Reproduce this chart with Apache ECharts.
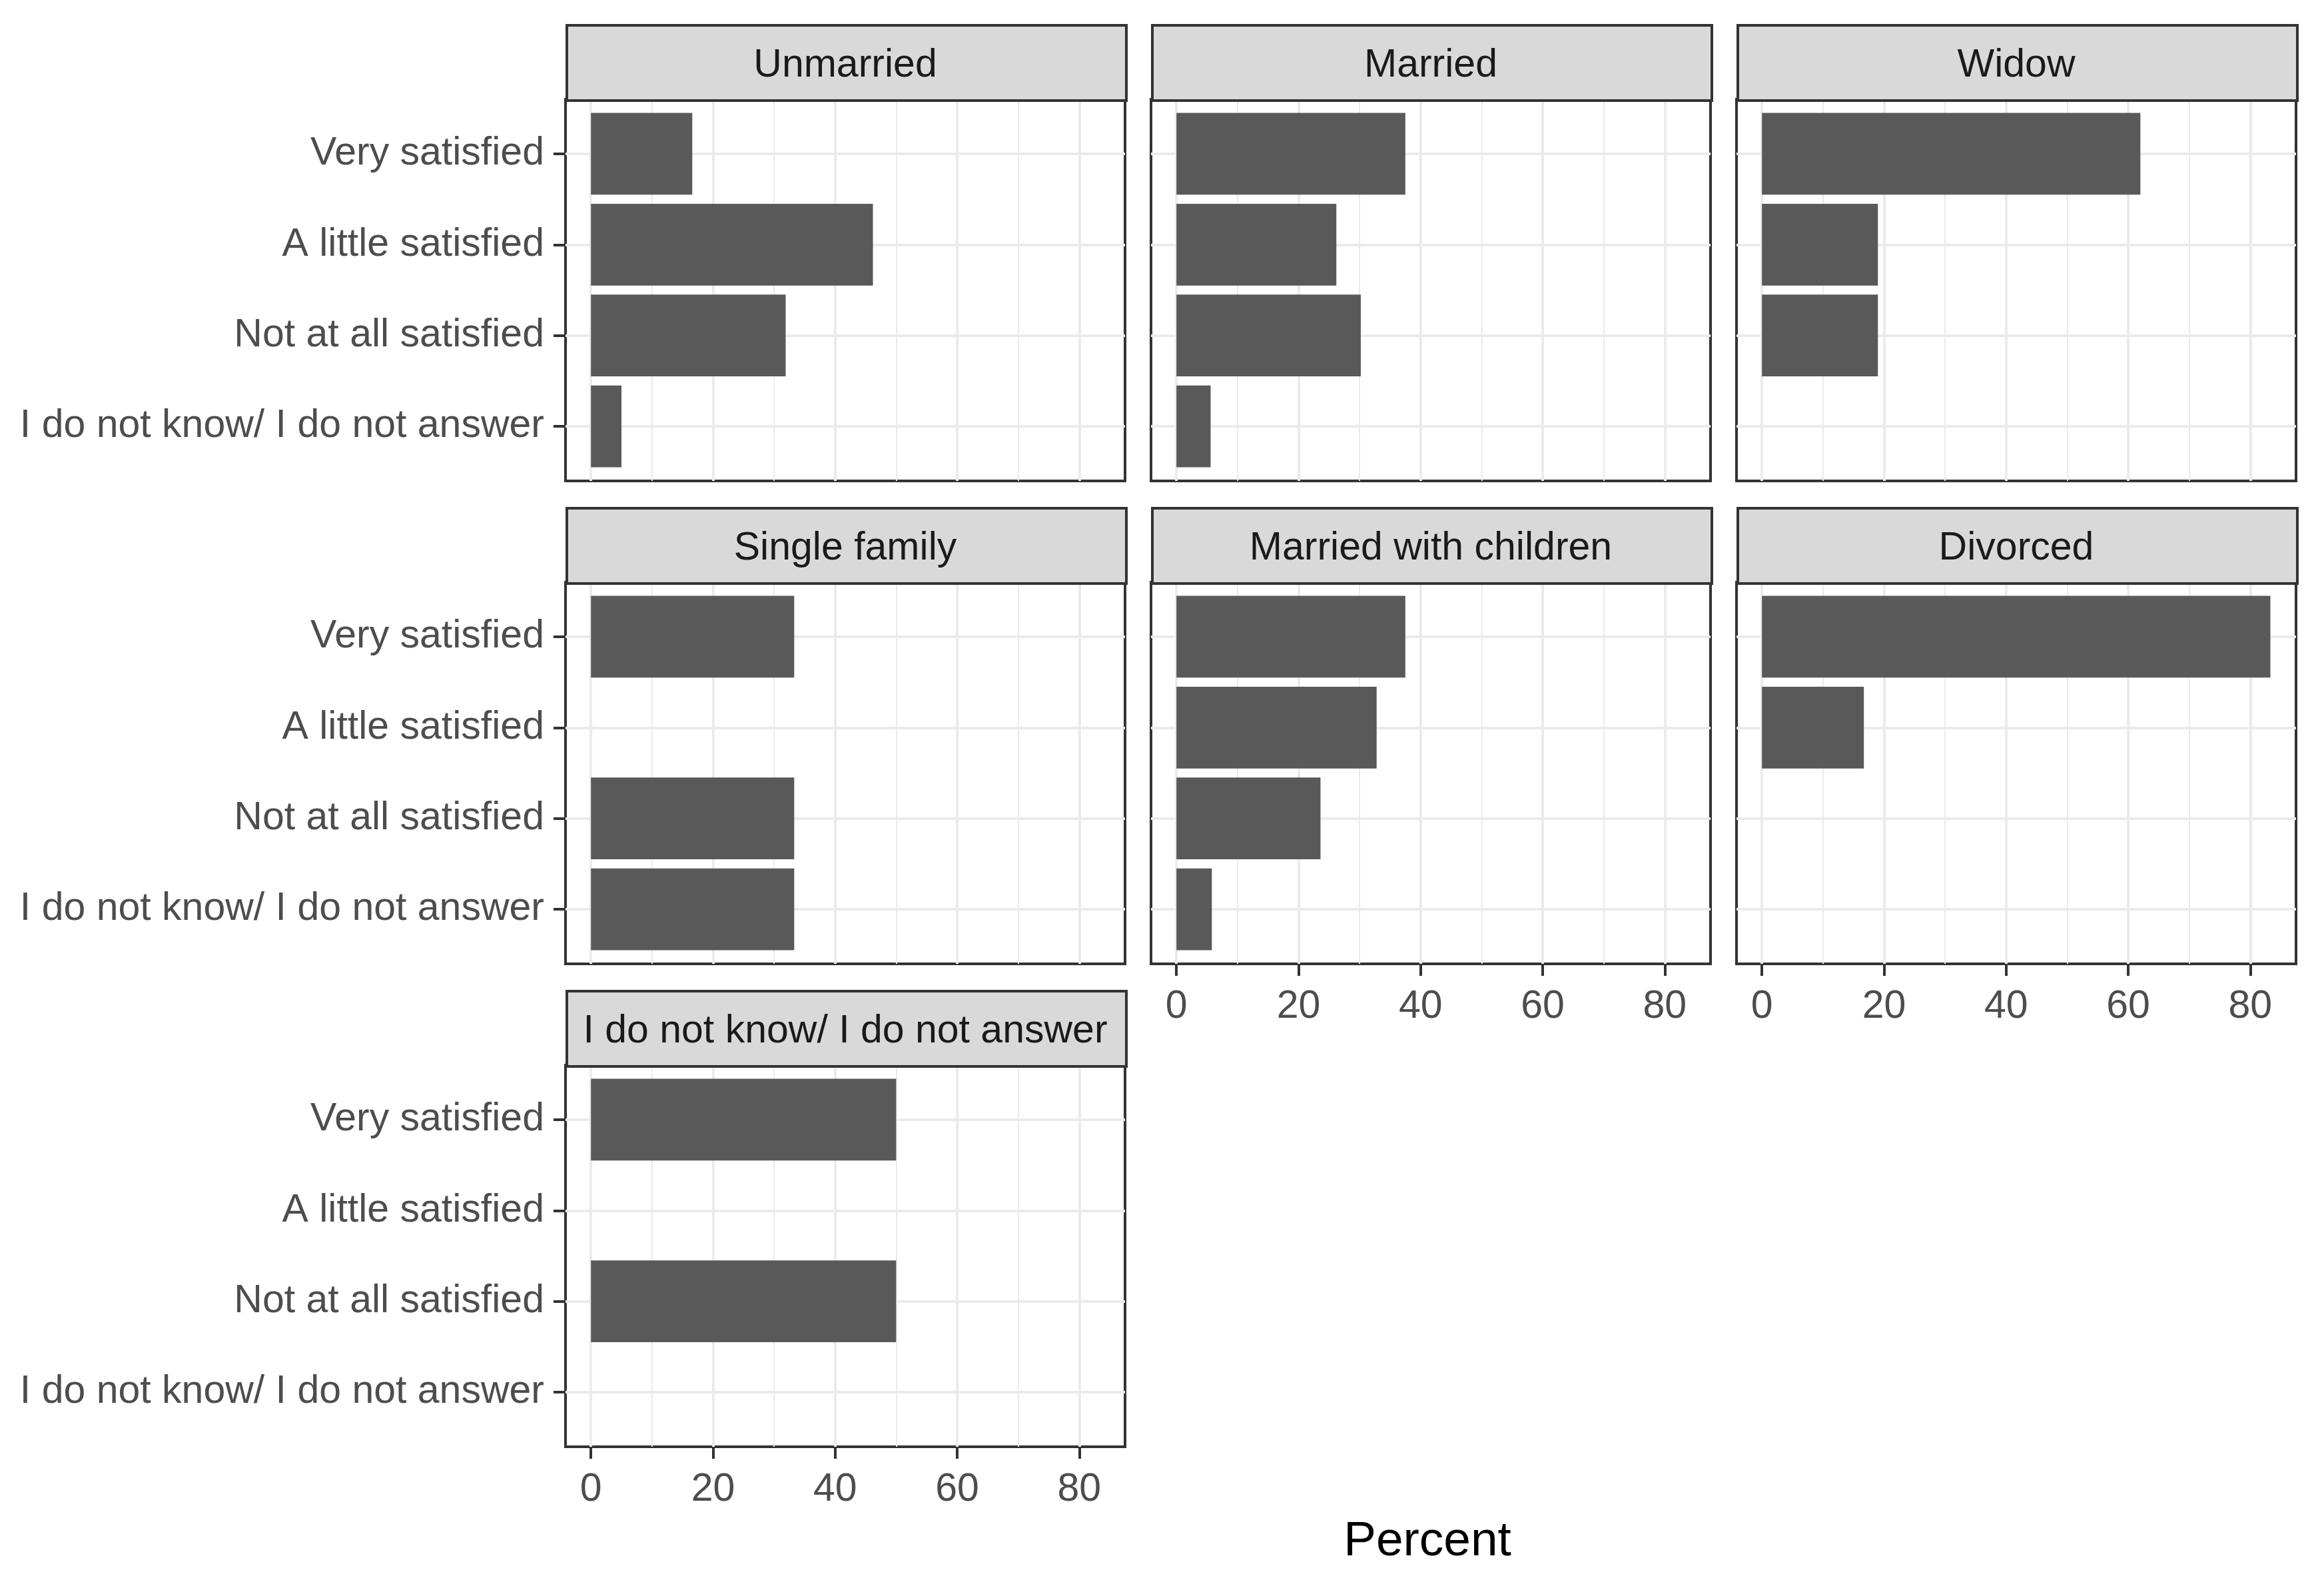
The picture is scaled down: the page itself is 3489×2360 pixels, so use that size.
<!DOCTYPE html>
<html>
<head>
<meta charset="utf-8">
<script src="https://cdn.jsdelivr.net/npm/echarts@6/dist/echarts.min.js"></script>
<style>
html,body{margin:0;padding:0;background:#fff;}
#chart{width:3489px;height:2360px;}
</style>
</head>
<body>
<div id="chart"></div>
<script>
// ---------- data ----------
const categories = ['Very satisfied', 'A little satisfied', 'Not at all satisfied', 'I do not know/ I do not answer'];
const panelNames = ['Unmarried', 'Married', 'Widow', 'Single family', 'Married with children', 'Divorced', 'I do not know/ I do not answer'];
const unmarried = [16.6, 46.2, 31.9, 5.0];
const married = [37.5, 26.2, 30.2, 5.6];
const widow = [62.0, 19.0, 19.0, null];
const singleFamily = [33.3, null, 33.3, 33.3];
const marriedWithChildren = [37.5, 32.8, 23.6, 5.8];
const divorced = [83.3, 16.7, null, null];
const dontKnow = [50.0, null, 50.0, null];
const xTicks = [0, 20, 40, 60, 80];
const xMinorTicks = [10, 30, 50, 70];
const axisTitle = 'Percent';

const panelValues = [unmarried, married, widow, singleFamily, marriedWithChildren, divorced, dontKnow];

// ---------- layout ----------
const FONT = "'Liberation Sans', Arial, sans-serif";
const colLeft = [849, 1728, 2607];
const panelW = 840;
const stripTop = [36, 761, 1486];
const stripH = 113;
const panelH = 573;
const xMin = -4.1667, xMax = 87.5;
const catExpand = 0.6;              // ggplot discrete expansion
const nCat = categories.length;
const bandH = panelH / (nCat - 1 + 2 * catExpand);
const innerPad = (catExpand - 0.5) * bandH;
const catPositions = categories.map((c, k) => k + 1);

const leftCol = [0, 3, 6];
const bottomPanels = [4, 5, 6];

const grids = [], xAxes = [], yAxes = [], series = [], graphics = [];

panelValues.forEach((vals, i) => {
  const row = Math.floor(i / 3), col = i % 3;
  const left = colLeft[col];
  const top = stripTop[row] + stripH;
  const showX = bottomPanels.includes(i);
  const showY = leftCol.includes(i);

  // background panel grid (gridlines + border + x labels)
  const bg = grids.length;
  grids.push({left: left, top: top, width: panelW, height: panelH, show: true,
    backgroundColor: '#ffffff', borderColor: '#333333', borderWidth: 4, z: 0});
  xAxes.push({gridIndex: bg, type: 'value', min: xMin, max: xMax, position: 'bottom',
    axisLine: {show: false, onZero: false},
    axisTick: {show: showX, customValues: xTicks, length: 18, lineStyle: {color: '#333333', width: 4}},
    axisLabel: {show: showX, customValues: xTicks, fontSize: 59, color: '#4D4D4D', fontFamily: FONT, margin: 35},
    splitLine: {show: true, lineStyle: {color: '#EBEBEB', width: 4}}});
  xAxes.push({gridIndex: bg, type: 'value', min: xMin, max: xMax, position: 'top',
    axisLine: {show: false, onZero: false},
    axisTick: {show: false, customValues: xMinorTicks},
    axisLabel: {show: false, customValues: xMinorTicks},
    splitLine: {show: true, lineStyle: {color: '#EBEBEB', width: 2}}});
  yAxes.push({gridIndex: bg, type: 'value', min: 1 - catExpand, max: nCat + catExpand, inverse: true,
    axisLine: {show: false, onZero: false},
    axisTick: {show: false, customValues: catPositions},
    axisLabel: {show: false, customValues: catPositions},
    splitLine: {show: true, lineStyle: {color: '#EBEBEB', width: 4}}});

  // bar grid
  const bi = grids.length;
  grids.push({left: left, top: top + innerPad, width: panelW, height: panelH - 2 * innerPad, show: false});
  const bx = xAxes.length;
  xAxes.push({gridIndex: bi, type: 'value', min: xMin, max: xMax, show: false,
    axisLine: {onZero: false}, splitLine: {show: false}});
  const by = yAxes.length;
  yAxes.push({gridIndex: bi, type: 'category', data: categories, inverse: true, position: 'left',
    axisLine: {show: false, onZero: false},
    axisTick: {show: showY, alignWithLabel: true, length: 18, lineStyle: {color: '#333333', width: 4}},
    axisLabel: {show: showY, fontSize: 59, color: '#4D4D4D', fontFamily: FONT, margin: 32, padding: [16, 0, 0, 0]},
    splitLine: {show: false}});
  series.push({type: 'bar', xAxisIndex: bx, yAxisIndex: by, data: vals,
    barCategoryGap: '10%', itemStyle: {color: '#595959'}, silent: true, z: 3});

  // strip
  graphics.push({type: 'rect', left: left, top: stripTop[row], z: 10,
    shape: {width: panelW, height: stripH},
    style: {fill: '#D9D9D9', stroke: '#333333', lineWidth: 4}});
  graphics.push({type: 'text', x: left + panelW / 2, y: stripTop[row] + stripH / 2 + 6, z: 11,
    style: {text: panelNames[i], fontSize: 59, fontFamily: FONT, fill: '#1A1A1A',
      textAlign: 'center', textVerticalAlign: 'middle'}});
});

graphics.push({type: 'text', x: (colLeft[0] + colLeft[2] + panelW) / 2 - 5, y: 2315, z: 11,
  style: {text: axisTitle, fontSize: 73, fontFamily: FONT, fill: '#000000',
    textAlign: 'center', textVerticalAlign: 'middle'}});

const chart = echarts.init(document.getElementById('chart'), null, {renderer: 'canvas'});
chart.setOption({
  animation: false,
  backgroundColor: '#ffffff',
  grid: grids,
  xAxis: xAxes,
  yAxis: yAxes,
  series: series,
  graphic: graphics
});
</script>
</body>
</html>
